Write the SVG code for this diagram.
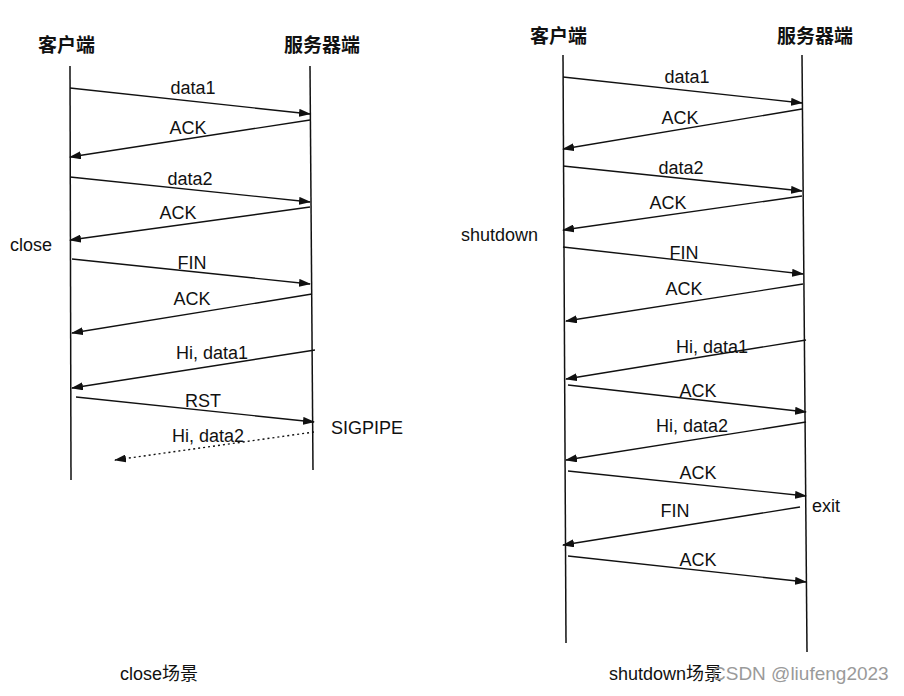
<svg xmlns="http://www.w3.org/2000/svg" width="904" height="696" viewBox="0 0 904 696">
<style>
text{font-family:"Liberation Sans","Noto Sans CJK SC",sans-serif;font-size:18px;fill:#111}
.h{font-size:19px;font-weight:bold}
.m{text-anchor:middle}
.life{stroke:#111;stroke-width:1.5;fill:none}
.a{stroke:#111;stroke-width:1.4;fill:none;marker-end:url(#ah)}
.d{stroke-dasharray:2 3}
</style>
<defs><marker id="ah" viewBox="0 0 12 8" refX="11" refY="4" markerWidth="12" markerHeight="8" markerUnits="userSpaceOnUse" orient="auto"><path d="M0,0L12,4L0,8z" fill="#111"/></marker></defs>
<rect width="904" height="696" fill="#fff"/>
<g id="lifelines">
<line class="life" x1="70" y1="66" x2="71" y2="480"/>
<line class="life" x1="310" y1="66" x2="313" y2="470"/>
<line class="life" x1="563" y1="55" x2="566" y2="643"/>
<line class="life" x1="802" y1="55" x2="807" y2="652"/>
</g>
<g id="headers">
<text class="h" x="38" y="52">客户端</text>
<text class="h" x="284" y="52">服务器端</text>
<text class="h" x="530" y="43">客户端</text>
<text class="h" x="777" y="43">服务器端</text>
</g>
<g id="connectors">
<line class="a" x1="70" y1="88" x2="310" y2="114"/>
<line class="a" x1="310" y1="120" x2="70" y2="157"/>
<line class="a" x1="70" y1="177" x2="310" y2="202"/>
<line class="a" x1="310" y1="207" x2="70" y2="240"/>
<line class="a" x1="72" y1="259" x2="310" y2="284"/>
<line class="a" x1="312" y1="294" x2="72" y2="333"/>
<line class="a" x1="315" y1="350" x2="72" y2="388"/>
<line class="a" x1="76" y1="397" x2="314" y2="422"/>
<line class="a d" x1="314" y1="432" x2="115" y2="460"/>
<line class="a" x1="563" y1="77" x2="802" y2="103"/>
<line class="a" x1="802" y1="109" x2="563" y2="149"/>
<line class="a" x1="563" y1="166" x2="802" y2="191"/>
<line class="a" x1="802" y1="196" x2="563" y2="230"/>
<line class="a" x1="563" y1="247" x2="803" y2="274"/>
<line class="a" x1="803" y1="284" x2="566" y2="321"/>
<line class="a" x1="806" y1="340" x2="566" y2="379"/>
<line class="a" x1="568" y1="385" x2="806" y2="412"/>
<line class="a" x1="806" y1="422" x2="566" y2="460"/>
<line class="a" x1="568" y1="471" x2="806" y2="496"/>
<line class="a" x1="800" y1="507" x2="563" y2="545"/>
<line class="a" x1="568" y1="556" x2="806" y2="582"/>
</g>
<g id="labels">
<text class="m" x="193" y="94">data1</text>
<text class="m" x="188" y="134">ACK</text>
<text class="m" x="190" y="185">data2</text>
<text class="m" x="178" y="219">ACK</text>
<text class="m" x="192" y="269">FIN</text>
<text class="m" x="192" y="305">ACK</text>
<text class="m" x="212" y="359">Hi, data1</text>
<text class="m" x="203" y="407">RST</text>
<text class="m" x="208" y="442">Hi, data2</text>
<text x="10" y="251">close</text>
<text x="331" y="434">SIGPIPE</text>
<text x="120" y="680">close场景</text>
<text class="m" x="687" y="83">data1</text>
<text class="m" x="680" y="124">ACK</text>
<text class="m" x="681" y="174">data2</text>
<text class="m" x="668" y="209">ACK</text>
<text x="461" y="241">shutdown</text>
<text class="m" x="684" y="259">FIN</text>
<text class="m" x="684" y="295">ACK</text>
<text class="m" x="712" y="353">Hi, data1</text>
<text class="m" x="698" y="397">ACK</text>
<text class="m" x="692" y="432">Hi, data2</text>
<text class="m" x="698" y="479">ACK</text>
<text x="812" y="512">exit</text>
<text class="m" x="675" y="517">FIN</text>
<text class="m" x="698" y="566">ACK</text>
<text x="609" y="680">shutdown场景</text>
<text x="712" y="680" style="fill:#9a9a9a;font-size:19px">CSDN @liufeng2023</text>
</g>
</svg>
